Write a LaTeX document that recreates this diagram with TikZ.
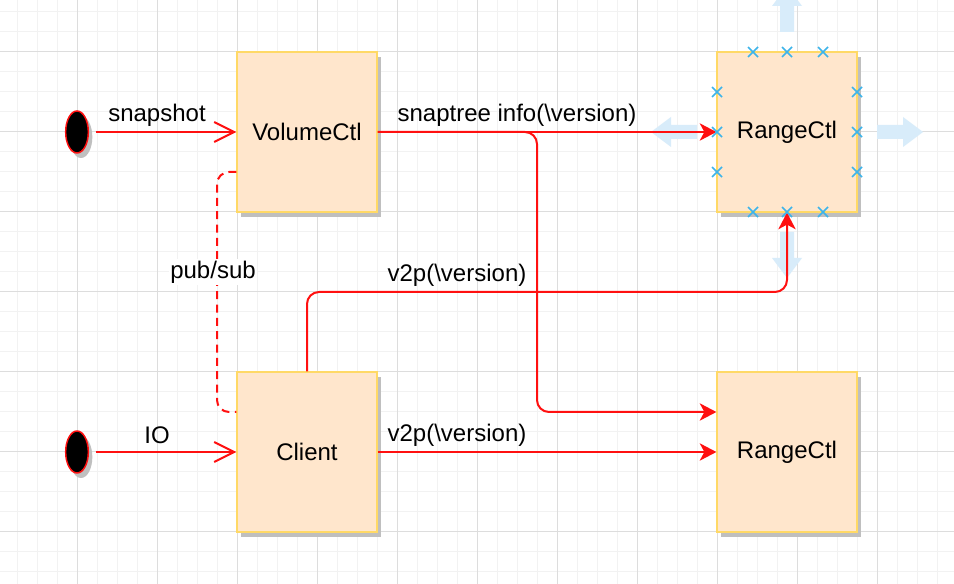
\documentclass[tikz,border=0pt]{standalone}
\usepackage{fontspec}
\setmainfont{Liberation Sans}
\usetikzlibrary{arrows.meta,shapes.geometric,shadows}
\definecolor{boxfill}{HTML}{FFE6CC}
\definecolor{boxline}{HTML}{FFD966}
\definecolor{gridmin}{HTML}{F2F2F2}
\definecolor{gridmaj}{HTML}{DDDDDD}
\definecolor{handle}{HTML}{3DB4EA}
\definecolor{hover}{HTML}{D8ECFA}
\definecolor{wire}{HTML}{FF1010}
\begin{document}
\begin{tikzpicture}[x=0.75pt,y=-0.75pt,
  txt/.style={font=\fontsize{18}{22}\selectfont},
  shade/.style={drop shadow={shadow xshift=3pt,shadow yshift=-3.75pt,fill=black!25,opacity=1}},
  box/.style={txt,shade,draw=boxline,line width=0.9pt,fill=boxfill,minimum width=105pt,minimum height=120pt,inner sep=0pt},
  start/.style={shade,ellipse,draw=wire,line width=1.1pt,fill=black,minimum width=17pt,minimum height=31.5pt,inner sep=0pt},
  lbl/.style={txt,inner sep=1pt},
  flow/.style={draw=wire,line width=1.5pt,rounded corners=9pt,-{Stealth[length=12.5pt,width=13pt,inset=3.5pt]}},
  feed/.style={draw=wire,line width=1.5pt,-{Straight Barb[length=15pt,width=15pt]}},
  bus/.style={draw=wire,line width=1.5pt,rounded corners=9pt,dash pattern=on 6pt off 4pt}]
\useasboundingbox[fill=white] (0,0) rectangle (954,584);
% grid
\foreach \x in {17,37,...,957} \draw[gridmin,line width=0.75pt] (\x,0) -- (\x,584);
\foreach \y in {12,32,...,584} \draw[gridmin,line width=0.75pt] (0,\y) -- (954,\y);
\foreach \x in {77,157,...,877} \draw[gridmaj,line width=0.75pt] (\x,0) -- (\x,584);
\foreach \y in {52,132,...,532} \draw[gridmaj,line width=0.75pt] (0,\y) -- (954,\y);
% hover arrows round the selected box
\foreach \ang/\px/\py in {0/877/132,180/697/132,90/787/32,270/787/232}
  \fill[hover,shift={(\px,\py)},rotate=\ang] (0,-7) -- (26,-7) -- (26,-15) -- (46,0) -- (26,15) -- (26,7) -- (0,7) -- cycle;

\node[box] (vol) at (307,132) {VolumeCtl};
\node[box] (rng1) at (787,132) {RangeCtl};
\node[box] (cli) at (307,452) {Client};
\node[box] (rng2) at (787,452) {RangeCtl};
\node[start] (src1) at (77,132) {};
\node[start] (src2) at (77,452) {};

\draw[feed] ([xshift=5pt]src1.east) -- (vol.west);
\draw[feed] ([xshift=5pt]src2.east) -- (cli.west);
\draw[flow] (vol.east) -- (rng1.west);
\draw[flow] (vol.east) -- (537,132) |- ([yshift=30pt]rng2.west);
\draw[flow] (cli.north) -- (307,292) -| (rng1.south);
\draw[flow] (cli.east) -- (rng2.west);
\draw[bus] ([yshift=-30pt]vol.west) -- (217,172) -- (217,412) -- ([yshift=30pt]cli.west);

\node[lbl] (snap) at (157,115) {snapshot};
\node[lbl] (io) at (157,435) {IO};
\node[lbl] (info) at (517,115) {snaptree info(\textbackslash version)};
\node[lbl] (v2pup) at (457,275) {v2p(\textbackslash version)};
\node[lbl] (v2pdn) at (457,435) {v2p(\textbackslash version)};
\node[lbl,fill=white] (pubsub) at (213,272) {pub/sub};

% selection handles
\foreach \px/\py in {753/52,787/52,823/52,753/212,787/212,823/212,717/92,717/132,717/172,857/92,857/132,857/172}
  \draw[handle,line width=1.3pt] (\px-5,\py-5) -- (\px+5,\py+5) (\px-5,\py+5) -- (\px+5,\py-5);
\end{tikzpicture}
\end{document}
